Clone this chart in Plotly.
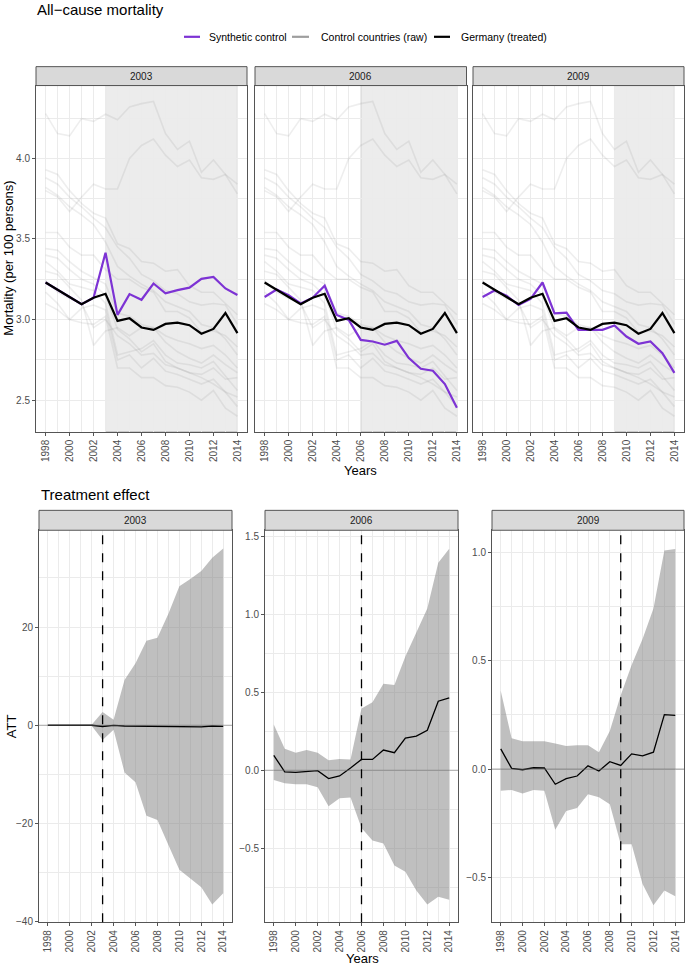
import plotly.graph_objects as go

W, H = 685, 970
FONT = "Liberation Sans, Arial, Helvetica, sans-serif"

years = list(range(1998, 2015))
treat_years = [2003, 2006, 2009]
panel_labels = ["2003", "2006", "2009"]

germany = [3.230, 3.187, 3.140, 3.095, 3.136, 3.160, 2.992, 3.008, 2.951, 2.936,
           2.973, 2.981, 2.965, 2.912, 2.942, 3.041, 2.916]

synth_2003 = [3.230, 3.187, 3.140, 3.095, 3.136, 3.415, 3.029, 3.158, 3.123, 3.224,
              3.163, 3.183, 3.198, 3.253, 3.265, 3.193, 3.152]
synth_2006 = [3.140, 3.187, 3.152, 3.100, 3.136, 3.210, 3.029, 2.998, 2.874, 2.864,
              2.844, 2.868, 2.761, 2.695, 2.683, 2.600, 2.453]
synth_2009 = [3.140, 3.180, 3.148, 3.090, 3.128, 3.230, 3.039, 3.043, 2.936, 2.936,
              2.936, 2.963, 2.895, 2.850, 2.864, 2.792, 2.669]

ctrl_a = [4.278, 4.154, 4.140, 4.247, 4.230, 4.274, 4.240, 4.319, 4.340, 4.354, 4.154, 4.056, 4.107, 3.914, 3.990, 3.900, 3.840]
ctrl_b = [3.800, 3.760, 3.670, 3.760, 3.840, 3.810, 3.810, 4.000, 4.080, 4.120, 4.020, 3.950, 3.990, 3.880, 3.870, 3.900, 3.780]
ctrl_c = [3.930, 3.900, 3.800, 3.720, 3.660, 3.630, 3.470, 3.440, 3.360, 3.350, 3.300, 3.310, 3.210, 3.170, 3.170, 3.100, 3.030]
ctrl_d = [3.880, 3.840, 3.760, 3.700, 3.630, 3.570, 3.450, 3.380, 3.280, 3.240, 3.180, 3.160, 3.110, 3.090, 3.100, 3.090, 2.970]
ctrl_e = [3.820, 3.770, 3.700, 3.650, 3.590, 3.480, 3.330, 3.270, 3.220, 3.180, 3.110, 3.080, 3.050, 2.970, 2.950, 2.880, 2.780]
ctrl_f = [3.540, 3.540, 3.450, 3.400, 3.400, 3.310, 3.250, 3.250, 3.200, 3.170, 3.050, 3.050, 3.010, 2.920, 2.930, 2.900, 2.830]
ctrl_g = [3.440, 3.430, 3.360, 3.300, 3.260, 3.220, 3.040, 3.020, 2.970, 2.950, 2.860, 2.800, 2.760, 2.730, 2.780, 2.720, 2.670]
ctrl_h = [3.400, 3.380, 3.310, 3.250, 3.220, 3.150, 2.940, 2.880, 2.800, 2.850, 2.740, 2.700, 2.670, 2.660, 2.700, 2.630, 2.640]
ctrl_i = [3.360, 3.300, 3.220, 3.200, 3.180, 3.100, 2.780, 2.800, 2.820, 2.870, 2.780, 2.730, 2.720, 2.700, 2.740, 2.650, 2.560]
ctrl_j = [3.170, 3.100, 3.000, 3.070, 3.090, 3.060, 2.750, 2.780, 2.700, 2.760, 2.680, 2.660, 2.630, 2.600, 2.630, 2.550, 2.460]
ctrl_k = [3.100, 3.060, 3.000, 2.980, 2.970, 3.020, 2.700, 2.700, 2.640, 2.640, 2.590, 2.580, 2.550, 2.500, 2.560, 2.450, 2.400]
ctrl_l = [3.240, 3.170, 3.130, 3.100, 2.950, 3.000, 2.900, 2.850, 2.780, 2.790, 2.720, 2.700, 2.670, 2.640, 2.600, 2.550, 2.520]
ctrl_m = [3.300, 3.280, 3.200, 3.120, 2.840, 2.930, 2.950, 2.900, 2.950, 2.950, 2.900, 2.870, 2.850, 2.820, 2.840, 2.780, 2.700]
controls = [ctrl_a, ctrl_b, ctrl_c, ctrl_d, ctrl_e, ctrl_f, ctrl_g, ctrl_h,
            ctrl_i, ctrl_j, ctrl_k, ctrl_l, ctrl_m]

att_2003 = [0.0, 0.0, 0.0, 0.0, 0.0, -0.25, -0.04, -0.15, -0.17, -0.29,
            -0.19, -0.20, -0.23, -0.34, -0.32, -0.15, -0.24]
att_2003_hi = [0.05, 0.05, 0.05, 0.05, 0.1, 2.7, 1.1, 9.2, 12.6, 17.2,
               17.8, 22.7, 28.3, 29.8, 31.4, 34.1, 36.0]
att_2003_lo = [-0.05, -0.05, -0.05, -0.05, -0.1, -3.0, -0.9, -9.6, -11.6, -18.4,
               -19.3, -24.4, -29.4, -31.2, -33.0, -36.5, -34.2]

att_2006 = [0.096, -0.010, -0.013, -0.006, -0.002, -0.053, -0.036, 0.015, 0.070, 0.070,
            0.130, 0.113, 0.206, 0.219, 0.257, 0.443, 0.464]
att_2006_hi = [0.294, 0.138, 0.113, 0.130, 0.113, 0.064, 0.072, 0.070, 0.396, 0.436,
               0.555, 0.547, 0.730, 0.879, 1.038, 1.330, 1.421]
att_2006_lo = [-0.062, -0.083, -0.089, -0.089, -0.109, -0.230, -0.180, -0.175, -0.370, -0.450,
               -0.470, -0.610, -0.650, -0.770, -0.860, -0.810, -0.830]

att_2009 = [0.093, 0.003, -0.003, 0.006, 0.005, -0.070, -0.044, -0.032, 0.015, -0.009,
            0.034, 0.017, 0.070, 0.061, 0.078, 0.251, 0.248]
att_2009_hi = [0.361, 0.142, 0.128, 0.127, 0.128, 0.118, 0.106, 0.110, 0.110, 0.078,
               0.176, 0.340, 0.480, 0.600, 0.740, 1.008, 1.015]
att_2009_lo = [-0.100, -0.096, -0.113, -0.096, -0.100, -0.280, -0.193, -0.180, -0.116, -0.130,
               -0.162, -0.346, -0.346, -0.530, -0.628, -0.560, -0.586]

synths = [synth_2003, synth_2006, synth_2009]
atts = [(att_2003, att_2003_lo, att_2003_hi),
        (att_2006, att_2006_lo, att_2006_hi),
        (att_2009, att_2009_lo, att_2009_hi)]

PURPLE = "#7d33d4"
GRAY_LINE = "rgba(120,120,120,0.13)"
BORDER = "#555555"
STRIP_FILL = "#d9d9d9"
GRID = "#ebebeb"
TICKC = "#4d4d4d"

def px_x(p):
    return p / W

def px_y(p):
    return 1 - p / H

top_x = [(36, 247), (255, 466.5), (473, 684)]
top_y = (86, 434)
bot_x = [(39, 232), (265, 458), (492, 684)]
bot_y = (533, 927)

top_range = [2.304, 4.452]
bot_ranges = [[-40.1, 39.7], [-0.974, 1.539], [-0.706, 1.101]]
bot_dticks = [20, 0.5, 0.5]
bot_formats = ["d", ".1f", ".1f"]

fig = go.Figure()
shapes = []
annotations = []

def xaxis_cfg(dom):
    return dict(domain=[px_x(dom[0]), px_x(dom[1])], range=[1997.2, 2014.8],
                tick0=1998, dtick=2, tickangle=-90, ticks="outside", ticklen=3,
                tickcolor=BORDER, tickwidth=1,
                tickfont=dict(family=FONT, size=10, color=TICKC),
                showgrid=True, gridcolor=GRID, gridwidth=1,
                minor=dict(dtick=1, tick0=1998, showgrid=True, gridcolor=GRID, gridwidth=0.7),
                showline=True, mirror=True, linecolor=BORDER, linewidth=1,
                zeroline=False, fixedrange=True)

def yaxis_cfg(ydom, rng, dtick, tick0, showlabels, anchor, fmt):
    return dict(domain=[px_y(ydom[1]), px_y(ydom[0])], range=rng,
                tick0=tick0, dtick=dtick, ticks="outside" if showlabels else "",
                ticklen=3, tickcolor=BORDER, tickwidth=1, tickformat=fmt,
                showticklabels=showlabels,
                tickfont=dict(family=FONT, size=10, color=TICKC),
                showgrid=True, gridcolor=GRID, gridwidth=1,
                minor=dict(dtick=dtick / 2, tick0=tick0, showgrid=True, gridcolor=GRID, gridwidth=0.7),
                showline=True, mirror=True, linecolor=BORDER, linewidth=1,
                zeroline=False, fixedrange=True, anchor=anchor)

layout_axes = {}
for i in range(3):
    n = i + 1
    xk = "xaxis" if n == 1 else f"xaxis{n}"
    yk = "yaxis" if n == 1 else f"yaxis{n}"
    xc = xaxis_cfg(top_x[i])
    xc["anchor"] = "y" if n == 1 else f"y{n}"
    layout_axes[xk] = xc
    yc = yaxis_cfg(top_y, top_range, 0.5, 2.5, i == 0, "x" if n == 1 else f"x{n}", ".1f")
    layout_axes[yk] = yc
for i in range(3):
    n = i + 4
    xc = xaxis_cfg(bot_x[i])
    xc["anchor"] = f"y{n}"
    layout_axes[f"xaxis{n}"] = xc
    yc = yaxis_cfg(bot_y, bot_ranges[i], bot_dticks[i], 0, True, f"x{n}", bot_formats[i])
    layout_axes[f"yaxis{n}"] = yc

# Top panels
for i in range(3):
    n = i + 1
    xa = "x" if n == 1 else f"x{n}"
    ya = "y" if n == 1 else f"y{n}"
    shapes.append(dict(type="rect", xref=xa, yref=f"{ya} domain",
                       x0=treat_years[i], x1=2014, y0=0, y1=1,
                       fillcolor="rgba(0,0,0,0.075)",
                       line=dict(color="rgba(0,0,0,0.22)", width=1), layer="below"))
    for j, c in enumerate(controls):
        fig.add_trace(go.Scatter(x=years, y=c, mode="lines", xaxis=xa, yaxis=ya,
                                 line=dict(color=GRAY_LINE, width=1.6),
                                 name="Control countries (raw)", showlegend=False,
                                 hoverinfo="skip"))
    fig.add_trace(go.Scatter(x=years, y=synths[i], mode="lines", xaxis=xa, yaxis=ya,
                             line=dict(color=PURPLE, width=2.2),
                             name="Synthetic control", showlegend=False))
    fig.add_trace(go.Scatter(x=years, y=germany, mode="lines", xaxis=xa, yaxis=ya,
                             line=dict(color="black", width=2.2),
                             name="Germany (treated)", showlegend=False))

# Bottom panels
for i in range(3):
    n = i + 4
    xa, ya = f"x{n}", f"y{n}"
    att, lo, hi = atts[i]
    fig.add_trace(go.Scatter(x=years, y=hi, mode="lines", xaxis=xa, yaxis=ya,
                             line=dict(width=0, color="rgba(0,0,0,0)"),
                             showlegend=False, hoverinfo="skip"))
    fig.add_trace(go.Scatter(x=years, y=lo, mode="lines", xaxis=xa, yaxis=ya,
                             line=dict(width=0, color="rgba(0,0,0,0)"),
                             fill="tonexty", fillcolor="rgba(128,128,128,0.5)",
                             showlegend=False, hoverinfo="skip"))
    shapes.append(dict(type="line", xref=f"{xa} domain", yref=ya, x0=0, x1=1, y0=0, y1=0,
                       line=dict(color="rgba(110,110,110,0.55)", width=1.1)))
    shapes.append(dict(type="line", xref=xa, yref=f"{ya} domain",
                       x0=treat_years[i], x1=treat_years[i], y0=0, y1=1,
                       line=dict(color="black", width=1.3, dash="dash")))
    fig.add_trace(go.Scatter(x=years, y=att, mode="lines", xaxis=xa, yaxis=ya,
                             line=dict(color="black", width=1.3),
                             name="ATT", showlegend=False))

def add_strip(x0, x1, y0, y1, text):
    shapes.append(dict(type="rect", xref="paper", yref="paper",
                       x0=px_x(x0), x1=px_x(x1), y0=px_y(y1), y1=px_y(y0),
                       fillcolor=STRIP_FILL, line=dict(color=BORDER, width=1)))
    annotations.append(dict(text=text, xref="paper", yref="paper",
                            x=px_x((x0 + x1) / 2), y=px_y((y0 + y1) / 2),
                            showarrow=False, xanchor="center", yanchor="middle",
                            font=dict(family=FONT, size=10, color="#1a1a1a")))

for i in range(3):
    add_strip(top_x[i][0], top_x[i][1], 67, top_y[0], panel_labels[i])
    add_strip(bot_x[i][0], bot_x[i][1], 513, bot_y[0], panel_labels[i])

def add_text(text, x, y, size, xanchor="center", angle=0, color="black"):
    annotations.append(dict(text=text, xref="paper", yref="paper",
                            x=px_x(x), y=px_y(y), showarrow=False,
                            xanchor=xanchor, yanchor="middle", textangle=angle,
                            font=dict(family=FONT, size=size, color=color)))

add_text("All\u2212cause mortality", 35, 10, 15, xanchor="left")
add_text("Treatment effect", 39, 497, 15, xanchor="left")
add_text("Mortality (per 100 persons)", 9, 260, 13, angle=-90)
add_text("Years", 361, 473, 13)
add_text("ATT", 11, 730, 13, angle=-90)
add_text("Years", 362, 963, 13)

legend_items = [("Synthetic control", PURPLE, 184, 200, 207),
                ("Control countries (raw)", "#9e9e9e", 292, 309, 319),
                ("Germany (treated)", "black", 434, 450, 459)]
LEG_Y = 37
for label, col, sx0, sx1, tx in legend_items:
    shapes.append(dict(type="line", xref="paper", yref="paper",
                       x0=px_x(sx0), x1=px_x(sx1), y0=px_y(LEG_Y), y1=px_y(LEG_Y),
                       line=dict(color=col, width=2.2)))
    annotations.append(dict(text=label, xref="paper", yref="paper",
                            x=px_x(tx), y=px_y(LEG_Y), showarrow=False,
                            xanchor="left", yanchor="middle",
                            font=dict(family=FONT, size=10.5, color="black")))

fig.update_layout(width=W, height=H, margin=dict(l=0, r=0, t=0, b=0),
                  paper_bgcolor="white", plot_bgcolor="white",
                  showlegend=False, shapes=shapes, annotations=annotations,
                  font=dict(family=FONT), **layout_axes)

fig.write_html("out.html", config={"displayModeBar": False},
               post_script="document.body.style.margin='0';document.body.style.padding='0';"
                           "document.body.style.overflow='hidden';"
                           "document.documentElement.style.overflow='hidden';")
